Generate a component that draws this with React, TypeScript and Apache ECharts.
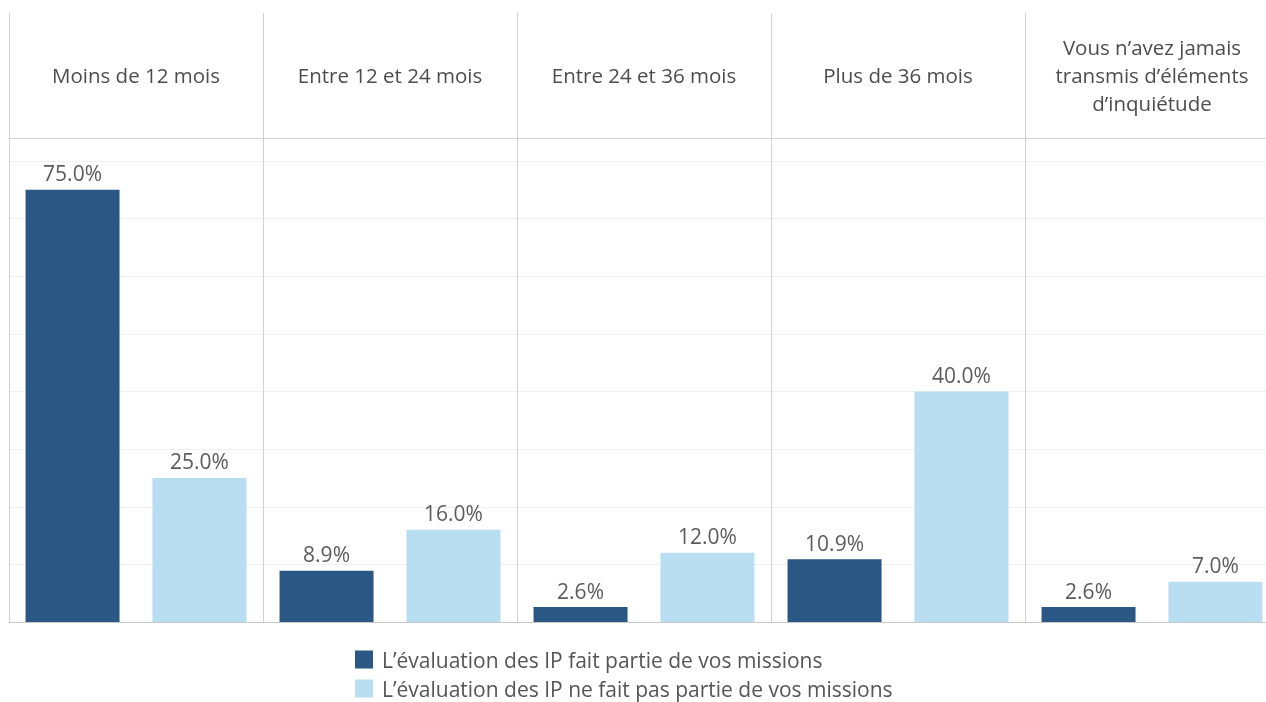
import React, { useEffect, useRef } from "react";
import * as echarts from "echarts";

const categories = [
  "Moins de 12 mois",
  "Entre 12 et 24 mois",
  "Entre 24 et 36 mois",
  "Plus de 36 mois",
  "Vous n\u2019avez jamais\ntransmis d\u2019\u00e9l\u00e9ments\nd\u2019inqui\u00e9tude",
];
const seriesNames = [
  "L\u2019\u00e9valuation des IP fait partie de vos missions",
  "L\u2019\u00e9valuation des IP ne fait pas partie de vos missions",
];
const valuesPartOf = [75.0, 8.9, 2.6, 10.9, 2.6];
const valuesNotPartOf = [25.0, 16.0, 12.0, 40.0, 7.0];
const colors = ["#2a5783", "#b9ddf1"];

const FONT = "Open Sans";

export default function App() {
  const ref = useRef<HTMLDivElement>(null);
  useEffect(() => {
    if (!ref.current) return;
    const chart = echarts.init(ref.current, undefined, { renderer: "svg" });
    const gridLine = "#d2d2d2";
    const label = {
      show: true,
      position: "top" as const,
      distance: 6,
      fontFamily: FONT,
      fontSize: 21,
      color: "#5c5c5c",
      formatter: (p: any) => `${Number(p.value).toFixed(1)}%`,
    };
    const legendBase = {
      orient: "horizontal",
      left: 355,
      padding: 0,
      itemWidth: 18,
      itemHeight: 18,
      icon: "rect",
      selectedMode: false,
      textStyle: {
        fontFamily: FONT,
        fontSize: 21,
        color: "#555555",
        padding: [0, 0, 0, 4],
      },
    };
    chart.setOption({
      animation: false,
      textStyle: { fontFamily: FONT },
      grid: [
        { left: 9, width: 1270, top: 138, height: 484 },
        { left: 9, width: 1270, top: 13, height: 125 },
      ],
      xAxis: [
        {
          type: "category",
          gridIndex: 0,
          data: categories,
          axisLine: { show: true, lineStyle: { color: "#c8c8c8" } },
          axisTick: { show: false },
          axisLabel: { show: false },
          splitLine: { show: true, lineStyle: { color: gridLine } },
        },
        {
          type: "category",
          gridIndex: 1,
          data: categories,
          position: "bottom",
          axisLine: { show: true, lineStyle: { color: gridLine } },
          axisTick: { show: false },
          axisLabel: {
            show: true,
            inside: true,
            margin: 63,
            verticalAlign: "middle",
            align: "center",
            fontFamily: FONT,
            fontSize: 20.5,
            lineHeight: 28,
            color: "#4d4d4d",
            interval: 0,
          },
          splitLine: { show: true, lineStyle: { color: gridLine } },
        },
      ],
      yAxis: [
        {
          type: "value",
          gridIndex: 0,
          min: 0,
          max: 84,
          interval: 10,
          axisLine: { show: false },
          axisTick: { show: false },
          axisLabel: { show: false },
          splitLine: { show: true, lineStyle: { color: "#f0f0f0" } },
        },
        {
          type: "value",
          gridIndex: 1,
          show: false,
          splitLine: { show: false },
        },
      ],
      legend: [
        { ...legendBase, top: 649, data: [seriesNames[0]] },
        { ...legendBase, top: 678, data: [seriesNames[1]] },
      ],
      series: [
        {
          name: seriesNames[0],
          type: "bar",
          xAxisIndex: 0,
          yAxisIndex: 0,
          data: valuesPartOf,
          barWidth: 94,
          barGap: "35%",
          itemStyle: { color: colors[0] },
          label,
        },
        {
          name: seriesNames[1],
          type: "bar",
          xAxisIndex: 0,
          yAxisIndex: 0,
          data: valuesNotPartOf,
          barWidth: 94,
          barGap: "35%",
          itemStyle: { color: colors[1] },
          label,
        },
      ],
    });
    return () => chart.dispose();
  }, []);
  return (
    <div
      style={{
        position: "fixed",
        left: 0,
        top: 0,
        width: 1266,
        height: 702,
        overflow: "hidden",
      }}
    >
      <div ref={ref} style={{ width: 1280, height: 702 }} />
    </div>
  );
}
